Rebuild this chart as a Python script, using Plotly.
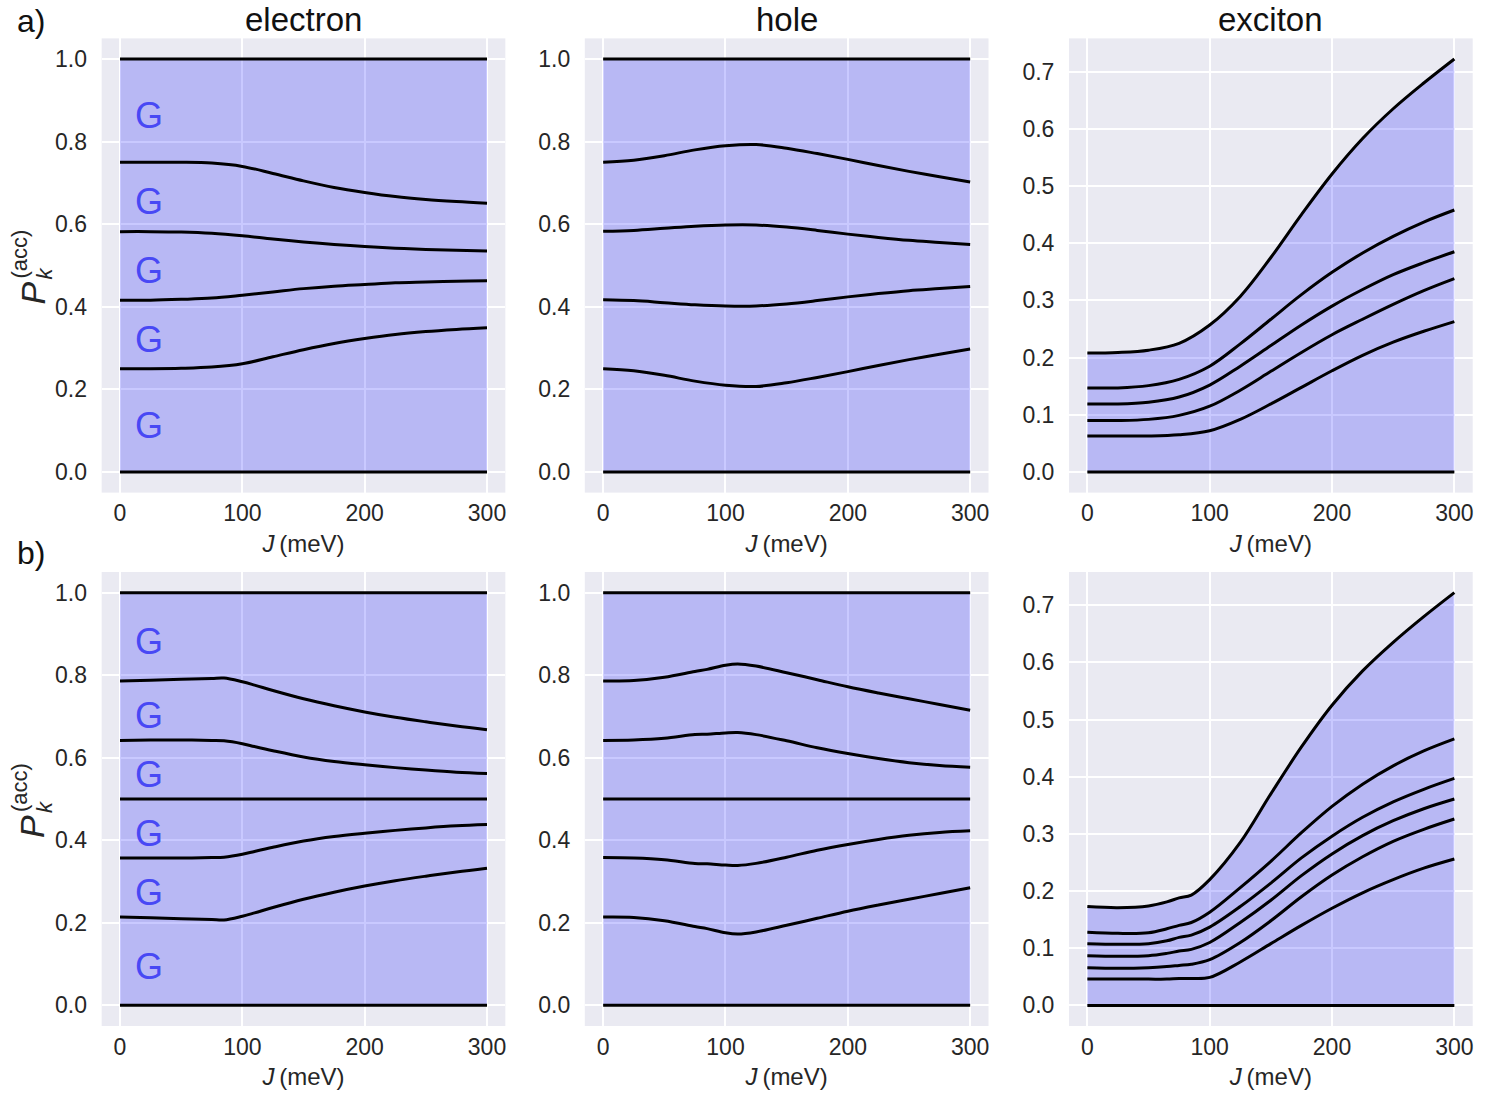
import plotly.graph_objects as go

# ---------------- data ----------------
J_A = [0, 25, 50, 75, 100, 125, 150, 175, 200, 225, 250, 275, 300]
J_B_EH = [0, 25, 50, 75, 85, 100, 110, 125, 150, 175, 200, 225, 250, 275, 300]
J_B_X = [0, 25, 50, 65, 75, 85, 100, 125, 150, 175, 200, 225, 250, 275, 300]

TOP = 1.0
MID = 0.5
BOTTOM = 0.0

# a) electron
ea_1 = [0.750, 0.750, 0.750, 0.748, 0.740, 0.723, 0.705, 0.689, 0.677, 0.667, 0.660, 0.655, 0.651]
ea_2 = [0.582, 0.582, 0.581, 0.578, 0.572, 0.564, 0.557, 0.551, 0.546, 0.542, 0.539, 0.537, 0.535]
ea_3 = [0.416, 0.416, 0.418, 0.421, 0.428, 0.436, 0.444, 0.450, 0.454, 0.458, 0.460, 0.462, 0.463]
ea_4 = [0.250, 0.250, 0.251, 0.254, 0.262, 0.279, 0.296, 0.311, 0.323, 0.333, 0.340, 0.345, 0.349]

# a) hole
ha_1 = [0.750, 0.755, 0.766, 0.780, 0.790, 0.793, 0.784, 0.771, 0.757, 0.742, 0.728, 0.715, 0.702]
ha_2 = [0.583, 0.585, 0.590, 0.595, 0.598, 0.598, 0.593, 0.585, 0.576, 0.568, 0.561, 0.556, 0.551]
ha_3 = [0.417, 0.415, 0.410, 0.405, 0.402, 0.402, 0.407, 0.415, 0.424, 0.432, 0.439, 0.444, 0.449]
ha_4 = [0.250, 0.245, 0.234, 0.220, 0.210, 0.207, 0.216, 0.229, 0.243, 0.258, 0.272, 0.285, 0.298]

# a) exciton
xa_1 = [0.208, 0.209, 0.213, 0.225, 0.257, 0.307, 0.375, 0.450, 0.521, 0.583, 0.635, 0.680, 0.722]
xa_2 = [0.147, 0.147, 0.151, 0.162, 0.185, 0.224, 0.267, 0.310, 0.349, 0.383, 0.412, 0.437, 0.458]
xa_3 = [0.119, 0.119, 0.122, 0.131, 0.152, 0.185, 0.221, 0.257, 0.290, 0.319, 0.345, 0.366, 0.385]
xa_4 = [0.090, 0.090, 0.092, 0.099, 0.115, 0.143, 0.176, 0.209, 0.240, 0.267, 0.293, 0.317, 0.338]
xa_5 = [0.063, 0.063, 0.063, 0.065, 0.072, 0.092, 0.119, 0.148, 0.177, 0.204, 0.227, 0.246, 0.263]

# b) electron
eb_1 = [0.786, 0.788, 0.790, 0.792, 0.793, 0.784, 0.776, 0.763, 0.743, 0.726, 0.711, 0.698, 0.687, 0.677, 0.668]
eb_2 = [0.642, 0.643, 0.643, 0.642, 0.641, 0.634, 0.627, 0.617, 0.602, 0.591, 0.583, 0.576, 0.570, 0.565, 0.562]
eb_4 = [0.357, 0.357, 0.357, 0.358, 0.359, 0.366, 0.373, 0.383, 0.398, 0.409, 0.417, 0.424, 0.430, 0.435, 0.438]
eb_5 = [0.214, 0.212, 0.210, 0.208, 0.207, 0.216, 0.224, 0.237, 0.257, 0.274, 0.289, 0.302, 0.313, 0.323, 0.332]

# b) hole
hb_1 = [0.786, 0.787, 0.795, 0.809, 0.814, 0.824, 0.827, 0.822, 0.806, 0.789, 0.772, 0.757, 0.743, 0.729, 0.715]
hb_2 = [0.642, 0.643, 0.647, 0.656, 0.657, 0.660, 0.661, 0.656, 0.641, 0.624, 0.610, 0.598, 0.588, 0.581, 0.577]
hb_4 = [0.358, 0.357, 0.353, 0.344, 0.343, 0.340, 0.339, 0.344, 0.359, 0.376, 0.390, 0.402, 0.412, 0.419, 0.423]
hb_5 = [0.214, 0.213, 0.205, 0.191, 0.186, 0.176, 0.173, 0.178, 0.194, 0.211, 0.228, 0.243, 0.257, 0.271, 0.285]

# b) exciton
xb_1 = [0.173, 0.171, 0.174, 0.181, 0.188, 0.193, 0.220, 0.285, 0.370, 0.452, 0.525, 0.585, 0.635, 0.680, 0.722]
xb_2 = [0.128, 0.126, 0.127, 0.134, 0.140, 0.145, 0.163, 0.206, 0.252, 0.302, 0.348, 0.387, 0.419, 0.445, 0.466]
xb_3 = [0.108, 0.107, 0.108, 0.113, 0.119, 0.123, 0.137, 0.173, 0.214, 0.258, 0.296, 0.329, 0.356, 0.378, 0.397]
xb_4 = [0.087, 0.086, 0.087, 0.091, 0.095, 0.098, 0.110, 0.145, 0.184, 0.227, 0.265, 0.297, 0.323, 0.344, 0.361]
xb_5 = [0.066, 0.065, 0.066, 0.068, 0.070, 0.072, 0.080, 0.110, 0.148, 0.190, 0.228, 0.260, 0.287, 0.308, 0.326]
xb_6 = [0.046, 0.046, 0.046, 0.046, 0.047, 0.047, 0.049, 0.076, 0.108, 0.140, 0.170, 0.197, 0.220, 0.240, 0.256]

TITLES = ["electron", "hole", "exciton"]
ROW_LABELS = ["a)", "b)"]
X_TICKS = [0, 100, 200, 300]
G_LABEL = "G"

flat = lambda v, J: [v] * len(J)

panels = [
    # (J grid, curves top->bottom, y range, dtick, show G)
    (J_A, [flat(TOP, J_A), ea_1, ea_2, ea_3, ea_4, flat(BOTTOM, J_A)], [-0.05, 1.05], 0.2, True),
    (J_A, [flat(TOP, J_A), ha_1, ha_2, ha_3, ha_4, flat(BOTTOM, J_A)], [-0.05, 1.05], 0.2, False),
    (J_A, [xa_1, xa_2, xa_3, xa_4, xa_5, flat(BOTTOM, J_A)], [-0.036, 0.758], 0.1, False),
    (J_B_EH, [flat(TOP, J_B_EH), eb_1, eb_2, flat(MID, J_B_EH), eb_4, eb_5, flat(BOTTOM, J_B_EH)], [-0.05, 1.05], 0.2, True),
    (J_B_EH, [flat(TOP, J_B_EH), hb_1, hb_2, flat(MID, J_B_EH), hb_4, hb_5, flat(BOTTOM, J_B_EH)], [-0.05, 1.05], 0.2, False),
    (J_B_X, [xb_1, xb_2, xb_3, xb_4, xb_5, xb_6, flat(BOTTOM, J_B_X)], [-0.036, 0.758], 0.1, False),
]

# ---------------- style / layout ----------------
FONT = "Liberation Sans, Arial, sans-serif"
TXT = "#262626"
BG = "#EAEAF2"
FILL = "rgba(0,0,255,0.21)"
G_COLOR = "#4848F4"
W, H = 1495, 1097


def fx(px):
    return px / W


def fy(py):
    return 1 - py / H


col_px = [(101.65, 505.35), (584.8, 988.5), (1069.0, 1472.7)]
row_px = [(38.4, 492.6), (572.0, 1026.0)]
col_dom = [(fx(a), fx(b)) for a, b in col_px]
row_dom = [(fy(b), fy(a)) for a, b in row_px]

fig = go.Figure()
annotations = []

for i, (J, curves, yr, dt, showG) in enumerate(panels):
    n = i + 1
    r, c = divmod(i, 3)
    xa = "x" if n == 1 else f"x{n}"
    ya = "y" if n == 1 else f"y{n}"
    fig.add_trace(go.Scatter(x=J, y=curves[0], mode="lines", xaxis=xa, yaxis=ya,
                             line=dict(width=0, shape="spline", smoothing=1.0),
                             fill="tozeroy", fillcolor=FILL, hoverinfo="skip",
                             showlegend=False))
    for cv in curves:
        fig.add_trace(go.Scatter(x=J, y=cv, mode="lines", xaxis=xa, yaxis=ya,
                                 line=dict(color="black", width=3, shape="spline", smoothing=1.0),
                                 showlegend=False))
    if showG:
        for k in range(len(curves) - 1):
            gy = (curves[k][0] + curves[k + 1][0]) / 2 - 0.012
            annotations.append(dict(x=23.5, y=gy, xref=xa, yref=ya, text=G_LABEL,
                                    showarrow=False, xanchor="center", yanchor="middle",
                                    font=dict(family=FONT, size=36, color=G_COLOR)))
    axis_x = dict(domain=col_dom[c], anchor=ya, range=[-15, 315], tickvals=X_TICKS,
                  showgrid=True, gridcolor="white", gridwidth=1.8, zeroline=False,
                  showline=False, ticks="outside", ticklen=0, tickcolor="rgba(0,0,0,0)",
                  tickfont=dict(family=FONT, size=23, color=TXT),
                  title=dict(text="<i>J</i>\u2009(meV)", standoff=9,
                             font=dict(family=FONT, size=24, color=TXT)))
    axis_y = dict(domain=row_dom[r], anchor=xa, range=yr, dtick=dt, tick0=0,
                  showgrid=True, gridcolor="white", gridwidth=1.8, zeroline=False,
                  showline=False, ticks="outside", ticklen=9, tickcolor="rgba(0,0,0,0)",
                  tickformat=".1f", tickfont=dict(family=FONT, size=23, color=TXT))
    fig.update_layout(**{("xaxis" if n == 1 else f"xaxis{n}"): axis_x,
                         ("yaxis" if n == 1 else f"yaxis{n}"): axis_y})

# column titles
for c, t in enumerate(TITLES):
    annotations.append(dict(x=(col_dom[c][0] + col_dom[c][1]) / 2, y=fy(19),
                            xref="paper", yref="paper", text=t, showarrow=False,
                            xanchor="center", yanchor="middle",
                            font=dict(family=FONT, size=33, color="#111111")))

# row labels
for r, lab in enumerate(ROW_LABELS):
    py = 21 if r == 0 else 553
    annotations.append(dict(x=fx(31), y=fy(py), xref="paper", yref="paper",
                            text=lab, showarrow=False, xanchor="center", yanchor="middle",
                            font=dict(family=FONT, size=32, color="#111111")))

# y-axis label  P_k^(acc)
for r in range(2):
    cy = (row_px[r][0] + row_px[r][1]) / 2
    parts = [("<i>P</i>", 34, 32, cy + 28),
             ("(acc)", 22, 19, cy - 11),
             ("<i>k</i>", 22, 44, cy + 8)]
    for txt, sz, px, py in parts:
        annotations.append(dict(x=fx(px), y=fy(py), xref="paper", yref="paper",
                                text=txt, showarrow=False, textangle=-90,
                                xanchor="center", yanchor="middle",
                                font=dict(family=FONT, size=sz, color=TXT)))

fig.update_layout(width=W, height=H, margin=dict(l=0, r=0, t=0, b=0),
                  paper_bgcolor="white", plot_bgcolor=BG,
                  annotations=annotations, showlegend=False, hovermode=False,
                  font=dict(family=FONT, color=TXT))

# remove the page's default 8px body margin so the figure fills the window
fig.write_html("out.html", config={"displayModeBar": False},
               post_script="document.body.style.margin='0px';document.body.style.overflow='hidden';")
